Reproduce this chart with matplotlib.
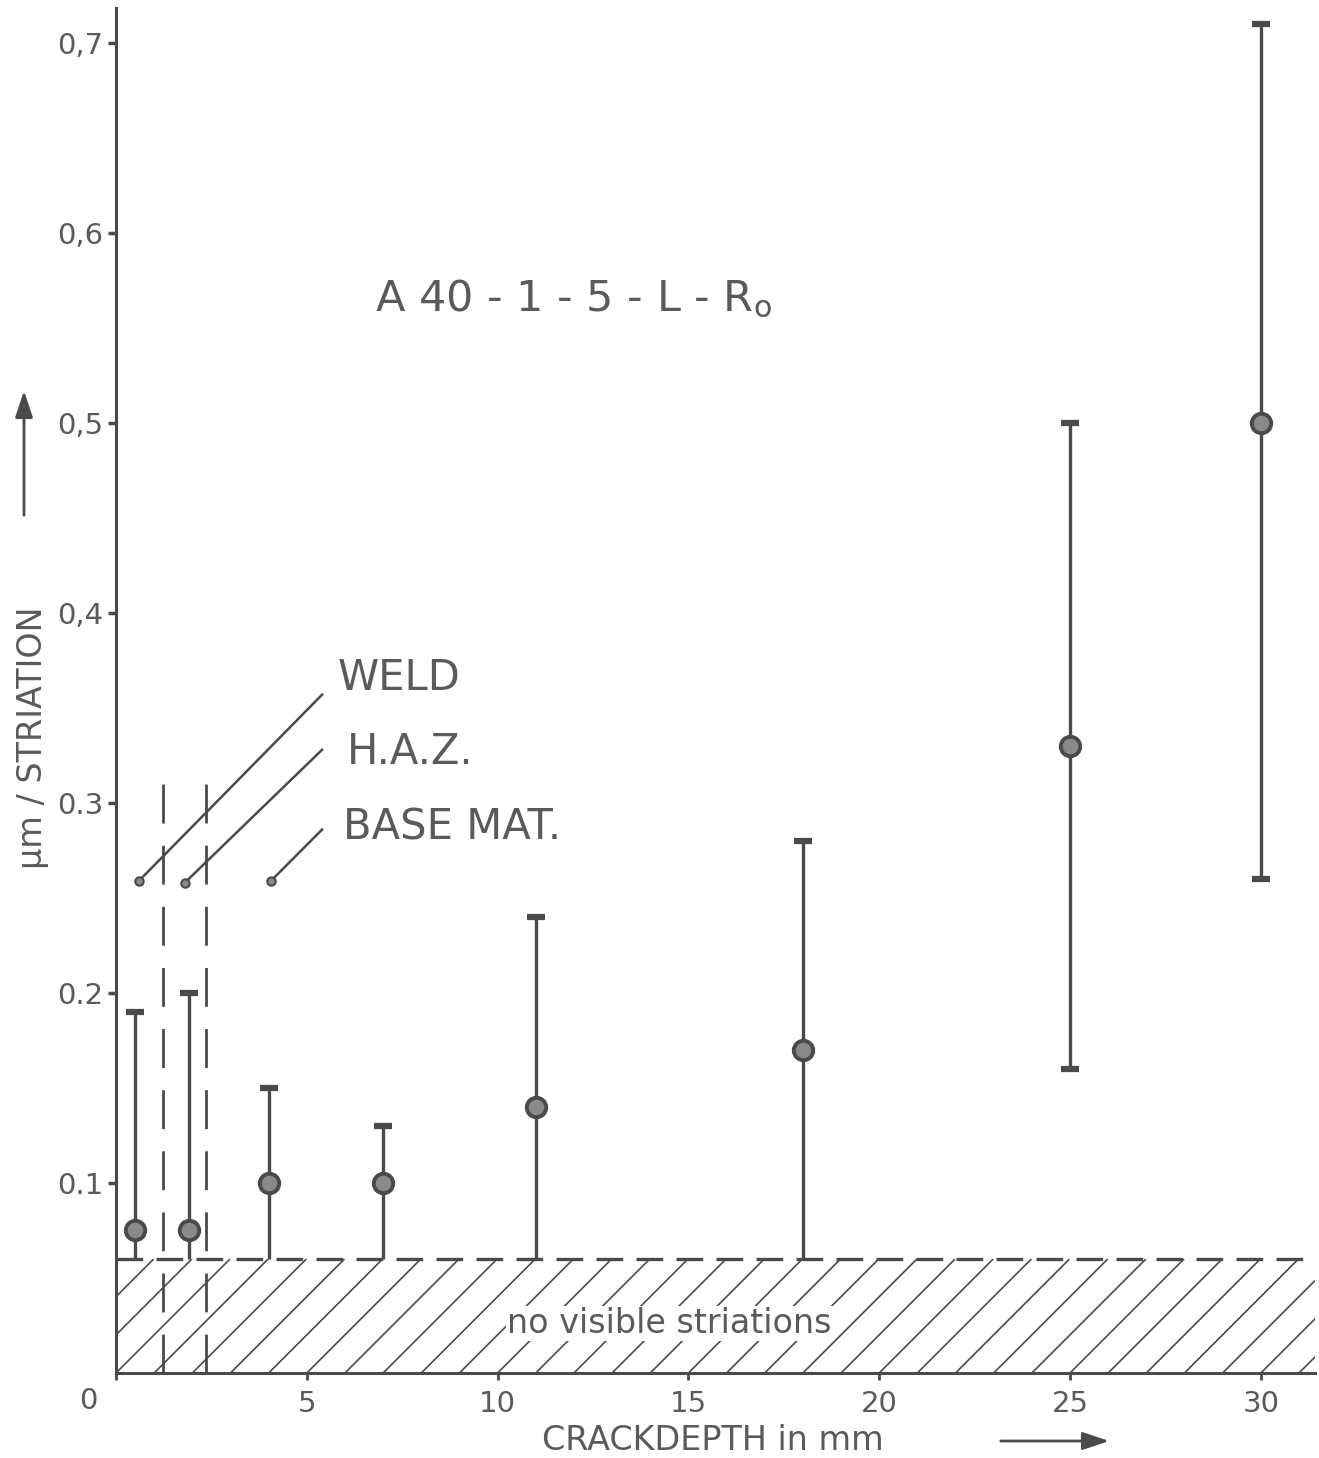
import matplotlib
matplotlib.use("Agg")
import matplotlib.pyplot as plt
from matplotlib.patches import Rectangle, FancyArrowPatch

# Fatigue striation spacing vs. crack depth, specimen A 40-1-5-L-Ro
depth = [0.5, 1.9, 4, 7, 11, 18, 25, 30]
mean_spacing = [0.075, 0.075, 0.10, 0.10, 0.14, 0.17, 0.33, 0.50]
upper_spacing = [0.19, 0.20, 0.15, 0.13, 0.24, 0.28, 0.50, 0.71]
lower_spacing = [0.06, 0.06, 0.06, 0.06, 0.06, 0.06, 0.16, 0.26]

threshold = 0.06                 # below this no striations are visible
zone_bounds = [1.23, 2.36]       # weld / HAZ / base material boundaries
zone_top = 0.315

zone_labels = ["WELD", "H.A.Z.", "BASE MAT."]
leader_x0 = [0.6, 1.8, 4.06]
leader_y0 = [0.259, 0.258, 0.259]
leader_y1 = [0.357, 0.328, 0.286]
leader_x1 = 5.4
label_x = [5.8, 6.05, 5.95]
label_y = [0.366, 0.327, 0.287]

xticks = [0, 5, 10, 15, 20, 25, 30]
xtick_labels = ["", "5", "10", "15", "20", "25", "30"]
yticks = [0.1, 0.2, 0.3, 0.4, 0.5, 0.6, 0.7]
ytick_labels = ["0.1", "0.2", "0.3", "0,4", "0,5", "0,6", "0,7"]

INK = "#4a4a4a"
TXT = "#5a5a5a"

W, H = 1319, 1458
fig = plt.figure(figsize=(W / 100, H / 100), dpi=100)
fig.patch.set_facecolor("white")
ax = fig.add_axes([116 / W, 85 / H, 1199 / W, 1365 / H])
xmax, ymax = 31.42, 0.7184
ax.set_xlim(0, xmax)
ax.set_ylim(0, ymax)

for side in ("top", "right"):
    ax.spines[side].set_visible(False)
for side in ("left", "bottom"):
    ax.spines[side].set_linewidth(2.2)
    ax.spines[side].set_color(INK)

ax.set_xticks(xticks)
ax.set_xticklabels(xtick_labels)
ax.set_yticks(yticks)
ax.set_yticklabels(ytick_labels)
ax.tick_params(axis="x", direction="out", length=5, width=2, color=INK,
               labelsize=21, labelcolor=TXT, pad=7)
ax.tick_params(axis="y", direction="out", length=6, width=2.5, color=INK,
               labelsize=21, labelcolor=TXT, pad=3)
ax.annotate("0", xy=(0, 0), xytext=(-20, -20), textcoords="offset points",
            ha="center", va="center", fontsize=21, color=TXT)

# hatched band of "no visible striations"
px_per_x = 1199 / xmax
px_per_y = 1365 / ymax
run = threshold * px_per_y / px_per_x   # 45 degree hatch run in x units
clip = Rectangle((0, 0), xmax, threshold, transform=ax.transData,
                 facecolor="none", edgecolor="none")
ax.add_patch(clip)
for k in range(-4, 33):
    ln, = ax.plot([k, k + run], [0, threshold], color=INK, lw=1.2,
                  solid_capstyle="butt", zorder=1)
    ln.set_clip_path(clip)
ax.plot([0, xmax], [threshold, threshold], color=INK, lw=2.4,
        dashes=(8, 4), zorder=2)
ax.text(14.5, 0.026, "no visible striations", ha="center", va="center",
        fontsize=24, color=TXT, zorder=3,
        bbox=dict(facecolor="white", edgecolor="none", pad=1))

# zone boundaries
for xb in zone_bounds:
    ax.plot([xb, xb], [0, zone_top], color=INK, lw=2.0, dashes=(14, 8),
            zorder=2)

# error bars
ax.vlines(depth, lower_spacing, upper_spacing, colors=INK, lw=2.4, zorder=4)
ax.plot(depth, upper_spacing, ls="none", marker="_", ms=13, mew=4.5,
        color=INK, zorder=4)
low_capped = [(d, lo) for d, lo in zip(depth, lower_spacing) if lo > threshold]
ax.plot([d for d, _ in low_capped], [lo for _, lo in low_capped], ls="none",
        marker="_", ms=13, mew=4.5, color=INK, zorder=4)
ax.plot(depth, mean_spacing, ls="none", marker="o", ms=14,
        mfc="#8a8a8a", mec=INK, mew=2.8, zorder=5)

# zone leaders and labels
for x0, y0, y1, lx, ly, lab in zip(leader_x0, leader_y0, leader_y1,
                                   label_x, label_y, zone_labels):
    ax.plot([x0, leader_x1], [y0, y1], color=INK, lw=1.8, zorder=3)
    ax.plot([x0], [y0], marker="o", ms=6, mfc="#8a8a8a", mec=INK, mew=1.5,
            zorder=3)
    ax.text(lx, ly, lab, ha="left", va="center", fontsize=30, color=TXT)

ax.text(12.0, 0.565, r"A 40 - 1 - 5 - L - R$_\mathregular{o}$",
        ha="center", va="center", fontsize=31, color=TXT)

# axis titles with direction arrows
fig.text(33 / W, 1 - 738 / H, "µm / STRIATION", rotation=90,
         ha="center", va="center", fontsize=24, color=TXT)
fig.text(713 / W, 1 - 1440 / H, "CRACKDEPTH in mm",
         ha="center", va="center", fontsize=24, color=TXT)
arrow = dict(arrowstyle="-|>,head_length=0.9,head_width=0.3", color=INK,
             lw=2, mutation_scale=18)
fig.add_artist(FancyArrowPatch((998 / W, 1 - 1441 / H), (1112 / W, 1 - 1441 / H),
                               transform=fig.transFigure, **arrow))
fig.add_artist(FancyArrowPatch((24 / W, 1 - 518 / H), (24 / W, 1 - 388 / H),
                               transform=fig.transFigure, **arrow))

fig.savefig("out.png", dpi=100, facecolor="white")
